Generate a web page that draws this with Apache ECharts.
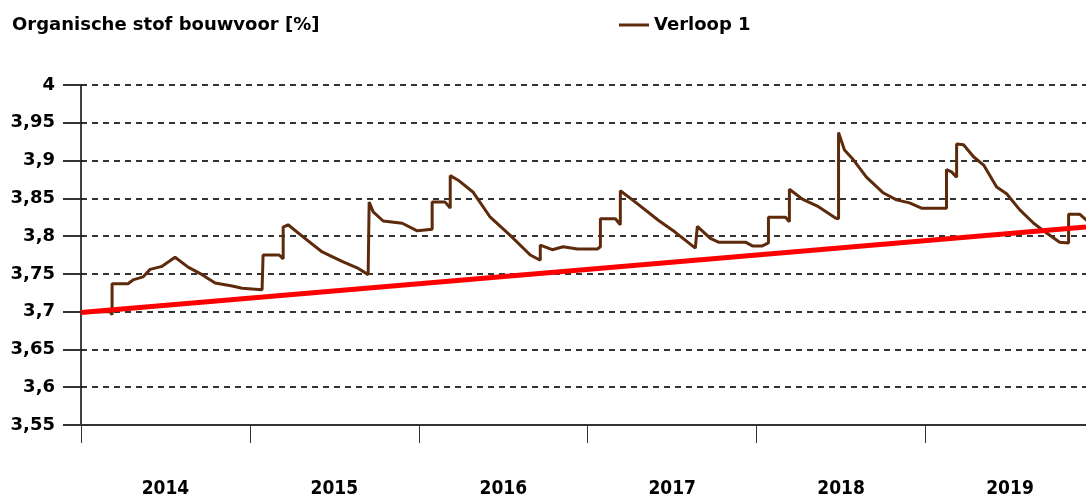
<!DOCTYPE html>
<html>
<head>
<meta charset="utf-8">
<script src="https://cdn.jsdelivr.net/npm/echarts@6/dist/echarts.min.js"></script>
<style>
  html, body { margin: 0; padding: 0; background: #fff; }
  #chart { width: 1086px; height: 499px; }
</style>
</head>
<body>
<div id="chart"></div>
<script>
// gemeten verloop (jaar als decimaal getal)
var years = [2014.000, 2014.172, 2014.184, 2014.184, 2014.278, 2014.308, 2014.367, 2014.409, 2014.480, 2014.557,
  2014.634, 2014.717, 2014.794, 2014.895, 2014.954, 2015.072, 2015.078, 2015.173, 2015.197, 2015.197,
  2015.226, 2015.309, 2015.428, 2015.505, 2015.552, 2015.635, 2015.700, 2015.706, 2015.730, 2015.789,
  2015.902, 2015.991, 2016.079, 2016.079, 2016.156, 2016.186, 2016.186, 2016.233, 2016.322, 2016.423,
  2016.541, 2016.660, 2016.719, 2016.719, 2016.790, 2016.855, 2016.938, 2017.057, 2017.075, 2017.075,
  2017.164, 2017.193, 2017.193, 2017.282, 2017.418, 2017.519, 2017.637, 2017.649, 2017.726, 2017.774,
  2017.934, 2017.975, 2018.034, 2018.070, 2018.070, 2018.171, 2018.194, 2018.194, 2018.271, 2018.366,
  2018.467, 2018.485, 2018.485, 2018.520, 2018.573, 2018.650, 2018.751, 2018.828, 2018.905, 2018.976,
  2019.124, 2019.124, 2019.154, 2019.184, 2019.184, 2019.225, 2019.284, 2019.344, 2019.421, 2019.480,
  2019.557, 2019.640, 2019.717, 2019.794, 2019.847, 2019.847, 2019.912, 2019.954];
var verloop1 = [3.700, 3.700, 3.696, 3.737, 3.737, 3.742, 3.746, 3.756, 3.760, 3.772,
  3.759, 3.749, 3.738, 3.734, 3.731, 3.729, 3.775, 3.775, 3.770, 3.812,
  3.815, 3.800, 3.779, 3.771, 3.766, 3.758, 3.749, 3.845, 3.832, 3.820,
  3.817, 3.807, 3.809, 3.845, 3.845, 3.837, 3.880, 3.874, 3.858, 3.825,
  3.801, 3.775, 3.768, 3.788, 3.782, 3.786, 3.783, 3.783, 3.786, 3.823,
  3.823, 3.815, 3.860, 3.845, 3.821, 3.805, 3.784, 3.813, 3.797, 3.792,
  3.792, 3.787, 3.787, 3.791, 3.825, 3.825, 3.819, 3.862, 3.849, 3.839,
  3.824, 3.823, 3.937, 3.914, 3.901, 3.878, 3.857, 3.848, 3.844, 3.837,
  3.837, 3.888, 3.885, 3.878, 3.922, 3.921, 3.905, 3.894, 3.865, 3.856,
  3.835, 3.817, 3.804, 3.792, 3.791, 3.829, 3.829, 3.821];

// trendlijn
var trendYears = [2014.0, 2019.95];
var trendValues = [3.699, 3.812];

// as-indeling
var yearTicks = [2014, 2015, 2016, 2017, 2018, 2019];
var yearLabels = ['2014', '2015', '2016', '2017', '2018', '2019'];

function pairs(xs, ys) {
  return xs.map(function (x, i) { return [x, ys[i]]; });
}

var myChart = echarts.init(document.getElementById('chart'));
var option = {
  animation: false,
  backgroundColor: '#fff',
  title: {
    text: 'Organische stof bouwvoor [%]',
    left: 7,
    top: 11,
    textStyle: {
      fontFamily: 'DejaVu Sans',
      fontWeight: 'bold',
      fontSize: 18,
      color: '#000'
    }
  },
  legend: {
    left: 614,
    top: 11,
    icon: 'rect',
    itemWidth: 30,
    itemHeight: 3,
    data: ['Verloop 1'],
    textStyle: {
      fontFamily: 'DejaVu Sans',
      fontWeight: 'bold',
      fontSize: 18,
      color: '#000'
    }
  },
  grid: {
    left: 81,
    right: 0,
    top: 85,
    bottom: 74
  },
  xAxis: {
    type: 'value',
    min: 2014,
    max: 2019.95,
    axisLine: { lineStyle: { color: '#333', width: 2 } },
    axisTick: {
      show: true,
      length: 18,
      customValues: yearTicks,
      lineStyle: { color: '#333', width: 1 }
    },
    axisLabel: {
      customValues: yearTicks.map(function (y) { return y + 0.5; }),
      formatter: function (v) { return yearLabels[yearTicks.indexOf(Math.floor(v))]; },
      margin: 55,
      fontFamily: 'Liberation Sans Narrow, DejaVu Sans Condensed, sans-serif',
      fontWeight: 'bold',
      fontSize: 19,
      color: '#000'
    },
    splitLine: { show: false }
  },
  yAxis: {
    type: 'value',
    min: 3.55,
    max: 4,
    interval: 0.05,
    axisLine: { show: true, lineStyle: { color: '#000', width: 1.5 } },
    axisTick: { show: true, length: 18, lineStyle: { color: '#333', width: 2 } },
    axisLabel: {
      margin: 26,
      formatter: function (v) {
        return String(parseFloat(v.toFixed(2))).replace('.', ',');
      },
      fontFamily: 'DejaVu Sans',
      fontWeight: 'bold',
      fontSize: 18,
      color: '#000'
    },
    splitLine: {
      show: true,
      lineStyle: { color: '#333', width: 2, type: [6, 5] }
    }
  },
  series: [
    {
      name: 'Verloop 1',
      type: 'line',
      symbol: 'none',
      data: pairs(years, verloop1),
      lineStyle: { color: '#5e2a0c', width: 3 },
      itemStyle: { color: '#5e2a0c' },
      z: 2
    },
    {
      name: 'trend',
      type: 'line',
      symbol: 'none',
      data: pairs(trendYears, trendValues),
      lineStyle: { color: '#ff0000', width: 5 },
      itemStyle: { color: '#ff0000' },
      z: 3
    }
  ]
};
myChart.setOption(option);
</script>
</body>
</html>
